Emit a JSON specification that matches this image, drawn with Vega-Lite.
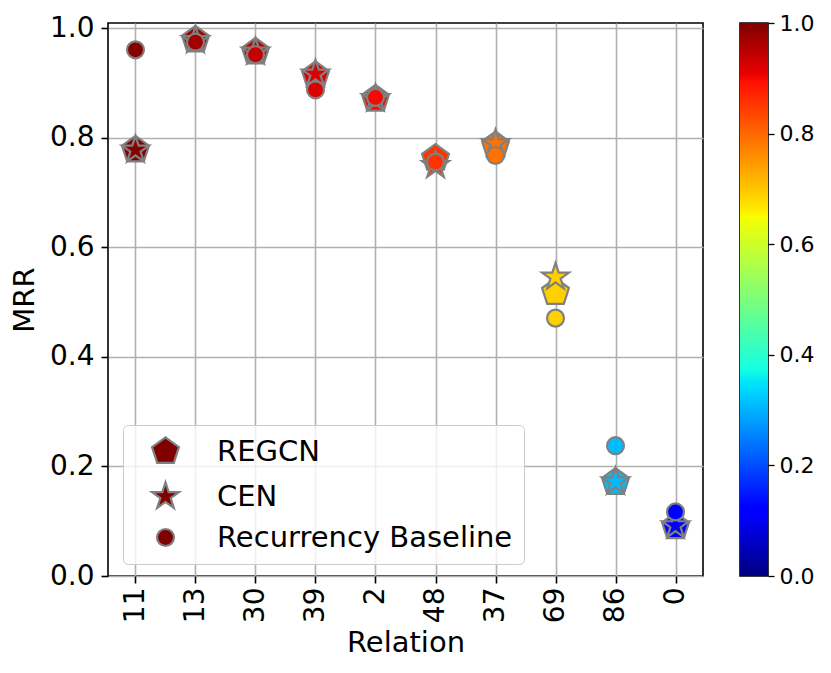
{
  "$schema": "https://vega.github.io/schema/vega-lite/v6.json",
  "autosize": "pad",
  "padding": {"left": 9, "top": 11, "right": 5, "bottom": 5},
  "background": "white",
  "spacing": 35,
  "config": {
    "font": "DejaVu Sans",
    "view": {"stroke": "black", "strokeWidth": 1.6},
    "axis": {
      "domain": false,
      "grid": true,
      "gridColor": "#b0b0b0",
      "gridWidth": 1.6,
      "tickColor": "black",
      "tickWidth": 1.6,
      "tickSize": 7,
      "labelFont": "DejaVu Sans",
      "labelColor": "black",
      "titleFont": "DejaVu Sans",
      "titleFontWeight": "normal",
      "titleColor": "black"
    },
    "legend": {"labelFont": "DejaVu Sans", "labelLimit": 0}
  },
  "hconcat": [
    {
      "width": 595,
      "height": 553,
      "data": {
        "values": [
          {"relation": "11", "model": "REGCN", "mrr": 0.778, "c": 0.995},
          {"relation": "13", "model": "REGCN", "mrr": 0.979, "c": 0.97},
          {"relation": "30", "model": "REGCN", "mrr": 0.957, "c": 0.94},
          {"relation": "39", "model": "REGCN", "mrr": 0.914, "c": 0.92},
          {"relation": "2", "model": "REGCN", "mrr": 0.871, "c": 0.9},
          {"relation": "48", "model": "REGCN", "mrr": 0.763, "c": 0.856},
          {"relation": "37", "model": "REGCN", "mrr": 0.786, "c": 0.79},
          {"relation": "69", "model": "REGCN", "mrr": 0.518, "c": 0.69},
          {"relation": "86", "model": "REGCN", "mrr": 0.171, "c": 0.31},
          {"relation": "0", "model": "REGCN", "mrr": 0.09, "c": 0.12},
          {"relation": "11", "model": "CEN", "mrr": 0.778, "c": 0.995},
          {"relation": "13", "model": "CEN", "mrr": 0.978, "c": 0.97},
          {"relation": "30", "model": "CEN", "mrr": 0.957, "c": 0.94},
          {"relation": "39", "model": "CEN", "mrr": 0.917, "c": 0.92},
          {"relation": "2", "model": "CEN", "mrr": 0.872, "c": 0.9},
          {"relation": "48", "model": "CEN", "mrr": 0.75, "c": 0.856},
          {"relation": "37", "model": "CEN", "mrr": 0.79, "c": 0.79},
          {"relation": "69", "model": "CEN", "mrr": 0.546, "c": 0.69},
          {"relation": "86", "model": "CEN", "mrr": 0.172, "c": 0.31},
          {"relation": "0", "model": "CEN", "mrr": 0.092, "c": 0.12},
          {"relation": "11", "model": "Recurrency Baseline", "mrr": 0.961, "c": 0.995},
          {"relation": "13", "model": "Recurrency Baseline", "mrr": 0.975, "c": 0.97},
          {"relation": "30", "model": "Recurrency Baseline", "mrr": 0.952, "c": 0.94},
          {"relation": "39", "model": "Recurrency Baseline", "mrr": 0.888, "c": 0.92},
          {"relation": "2", "model": "Recurrency Baseline", "mrr": 0.874, "c": 0.9},
          {"relation": "48", "model": "Recurrency Baseline", "mrr": 0.756, "c": 0.856},
          {"relation": "37", "model": "Recurrency Baseline", "mrr": 0.768, "c": 0.79},
          {"relation": "69", "model": "Recurrency Baseline", "mrr": 0.471, "c": 0.69},
          {"relation": "86", "model": "Recurrency Baseline", "mrr": 0.238, "c": 0.31},
          {"relation": "0", "model": "Recurrency Baseline", "mrr": 0.117, "c": 0.12}
        ]
      },
      "mark": {"type": "point", "filled": true, "opacity": 1, "stroke": "gray", "strokeWidth": 2.2, "size": 800},
      "encoding": {
        "x": {
          "field": "relation",
          "type": "nominal",
          "sort": ["11", "13", "30", "39", "2", "48", "37", "69", "86", "0"],
          "scale": {"type": "point", "padding": 0.458},
          "title": "Relation",
          "axis": {"labelAngle": -90, "labelFontSize": 28, "labelPadding": 4, "titlePadding": 6, "titleFontSize": 29}
        },
        "y": {
          "field": "mrr",
          "type": "quantitative",
          "scale": {"domain": [0, 1.01], "nice": false, "zero": false},
          "title": "MRR",
          "axis": {"values": [0, 0.2, 0.4, 0.6, 0.8, 1.0], "format": ".1f", "labelFontSize": 28, "labelPadding": 7, "titlePadding": 10, "titleFontSize": 29}
        },
        "color": {
          "field": "c",
          "type": "quantitative",
          "scale": {
            "domain": [0, 0.11, 0.125, 0.34, 0.35, 0.375, 0.64, 0.65, 0.66, 0.89, 0.91, 1],
            "range": ["#000080", "#0000ff", "#0000ff", "#00dbff", "#00e5f7", "#15ffe2", "#eeff08", "#f7ff00", "#ffec00", "#ff1300", "#e80000", "#800000"],
            "interpolate": "rgb"
          },
          "legend": null
        },
        "shape": {
          "field": "model",
          "type": "nominal",
          "scale": {
            "domain": ["REGCN", "CEN", "Recurrency Baseline"],
            "range": [
              "M0,-1L0.951,-0.309L0.588,0.809L-0.588,0.809L-0.951,-0.309Z",
              "M0,-1L0.2245,-0.309L0.951,-0.309L0.363,0.118L0.588,0.809L0,0.382L-0.588,0.809L-0.363,0.118L-0.951,-0.309L-0.2245,-0.309Z",
              "M0.6,0A0.6,0.6,0,1,1,-0.6,0A0.6,0.6,0,1,1,0.6,0Z"
            ]
          },
          "legend": {
            "title": null,
            "orient": "none",
            "legendX": 15,
            "legendY": 402,
            "padding": 11,
            "symbolOffset": 16,
            "rowPadding": 9,
            "labelOffset": 36,
            "labelFontSize": 29,
            "labelLimit": 0,
            "labelColor": "black",
            "symbolSize": 800,
            "symbolFillColor": "#800000",
            "symbolStrokeColor": "gray",
            "symbolStrokeWidth": 2.2,
            "symbolOpacity": 1,
            "fillColor": "rgba(255,255,255,0.8)",
            "strokeColor": "#cccccc",
            "cornerRadius": 5
          }
        }
      }
    },
    {
      "width": 28,
      "height": 553,
      "data": {"values": [{"lo": 0, "hi": 1}]},
      "mark": {
        "type": "rect",
        "strokeWidth": 0,
        "color": {
          "gradient": "linear",
          "x1": 0, "y1": 1, "x2": 0, "y2": 0,
          "stops": [
            {"offset": 0, "color": "#000080"},
            {"offset": 0.11, "color": "#0000ff"},
            {"offset": 0.125, "color": "#0000ff"},
            {"offset": 0.34, "color": "#00dbff"},
            {"offset": 0.35, "color": "#00e5f7"},
            {"offset": 0.375, "color": "#15ffe2"},
            {"offset": 0.64, "color": "#eeff08"},
            {"offset": 0.65, "color": "#f7ff00"},
            {"offset": 0.66, "color": "#ffec00"},
            {"offset": 0.89, "color": "#ff1300"},
            {"offset": 0.91, "color": "#e80000"},
            {"offset": 1, "color": "#800000"}
          ]
        }
      },
      "encoding": {
        "y": {
          "field": "lo",
          "type": "quantitative",
          "scale": {"domain": [0, 1], "nice": false},
          "title": null,
          "axis": {"orient": "right", "grid": false, "values": [0, 0.2, 0.4, 0.6, 0.8, 1.0], "format": ".1f", "labelFontSize": 22, "labelPadding": 5, "tickSize": 6, "tickWidth": 1.3}
        },
        "y2": {"field": "hi"}
      }
    }
  ]
}
